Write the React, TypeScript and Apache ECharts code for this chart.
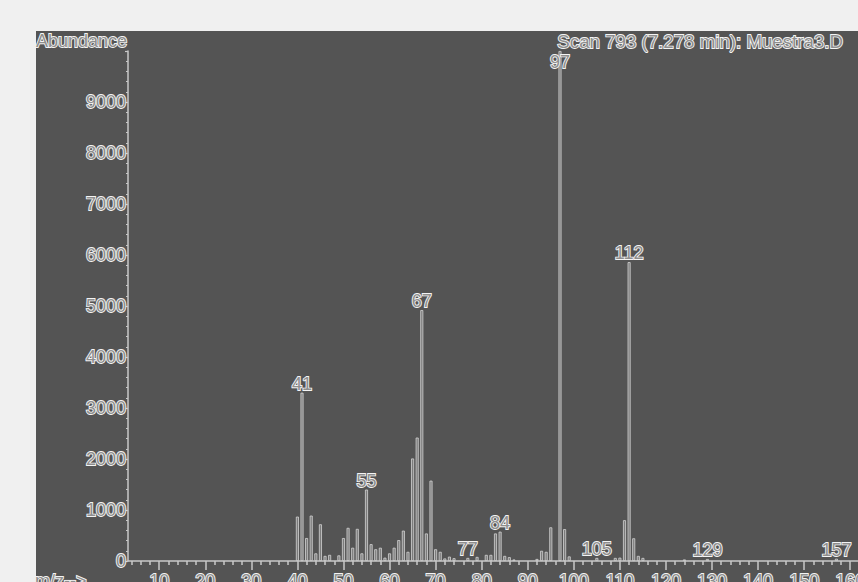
import React, { useEffect, useRef } from "react";
import * as echarts from "echarts";

// m/z values and their abundances
const masses = [
  40, 41, 42, 43, 44, 45, 46, 47, 49, 50, 51, 52, 53, 54, 55, 56, 57, 58, 59, 60,
  61, 62, 63, 64, 65, 66, 67, 68, 69, 70, 71, 72, 73, 74, 77, 79, 81, 82, 83, 84,
  85, 86, 87, 92, 93, 94, 95, 97, 98, 99, 105, 109, 110, 111, 112, 113, 114, 115,
  124, 129, 157,
];
const abundances = [
  870, 3300, 450, 890, 150, 720, 100, 120, 110, 450, 650, 260, 630, 150, 1400, 330, 230, 260, 65, 150,
  260, 410, 595, 180, 2010, 2420, 4920, 540, 1575, 230, 180, 50, 85, 55, 60, 80, 120, 120, 540, 575,
  100, 75, 30, 40, 200, 180, 660, 10000, 625, 90, 60, 60, 65, 800, 5860, 445, 100, 60,
  30, 40, 45,
];
const labeledMasses = [41, 55, 67, 77, 84, 97, 105, 112, 129, 157];
const xMajorTicks = [10, 20, 30, 40, 50, 60, 70, 80, 90, 100, 110, 120, 130, 140, 150, 160];
const xMinorTicks = [
  4, 6, 8, 12, 14, 16, 18, 22, 24, 26, 28, 32, 34, 36, 38, 42, 44, 46, 48, 52, 54, 56, 58,
  62, 64, 66, 68, 72, 74, 76, 78, 82, 84, 86, 88, 92, 94, 96, 98, 102, 104, 106, 108,
  112, 114, 116, 118, 122, 124, 126, 128, 132, 134, 136, 138, 142, 144, 146, 148,
  152, 154, 156, 158, 162, 164,
];
const titleText = "Scan 793 (7.278 min): Muestra3.D";
const yAxisTitle = "Abundance";
const xAxisTitle = "m/z-->";

const X_MIN = 3.23;
const X_MAX = 165;
const Y_MAX = 10000;

const FONT = "Liberation Sans, Arial, sans-serif";
const FILL = "#8e8e8e";
const STROKE = "#f4f4f4";
const textStyle = {
  color: FILL,
  textBorderColor: STROKE,
  textBorderWidth: 1.8,
  fontFamily: FONT,
  fontSize: 18,
};

export default function App() {
  const ref = useRef<HTMLDivElement>(null);

  useEffect(() => {
    if (!ref.current) return;
    const chart = echarts.init(ref.current, undefined, { renderer: "svg" });

    const data = masses.map((m, i) => {
      const labeled = labeledMasses.includes(m);
      const item: any = { value: [m, abundances[i]] };
      if (labeled) {
        const atTop = abundances[i] >= Y_MAX;
        item.label = {
          show: true,
          position: atTop ? "insideTop" : "top",
          distance: atTop ? 2 : 0,
          formatter: String(m),
          ...textStyle,
        };
      }
      return item;
    });

    const pxPerUnit = 4.607;
    const gridWidth = (X_MAX - X_MIN) * pxPerUnit;

    const gText = (text: string, x: number, y: number, align: string, va: string, size = 18) => ({
      type: "text",
      z: 100,
      x,
      y,
      style: {
        text,
        fill: FILL,
        stroke: STROKE,
        lineWidth: 1.8,
        fontFamily: FONT,
        fontSize: size,
        verticalAlign: va,
        align,
      },
    });

    chart.setOption({
      animation: false,
      backgroundColor: "#f0f0f0",
      graphic: [
        {
          type: "rect",
          z: -100,
          shape: { x: 36, y: 31, width: 900, height: 600 },
          style: { fill: "#545454" },
        },
        gText(yAxisTitle, 36, 41, "left", "middle"),
        gText(titleText, 843, 41, "right", "middle", 18.7),
        gText(xAxisTitle, 35, 572, "left", "top"),
      ],
      grid: {
        left: 128,
        top: 51,
        bottom: 21,
        width: gridWidth,
        containLabel: false,
        outerBoundsMode: "none",
      },
      xAxis: [
        {
          type: "value",
          min: X_MIN,
          max: X_MAX,
          splitLine: { show: false },
          axisLine: { show: true, lineStyle: { color: "#c8c8c8", width: 1.5 } },
          axisTick: {
            show: true,
            customValues: xMajorTicks,
            length: 9,
            lineStyle: { color: "#c8c8c8", width: 1.5 },
          },
          axisLabel: {
            customValues: xMajorTicks,
            margin: 11,
            hideOverlap: false,
            ...textStyle,
          },
        },
        {
          type: "value",
          min: X_MIN,
          max: X_MAX,
          position: "bottom",
          splitLine: { show: false },
          axisLine: { show: false },
          axisTick: {
            show: true,
            customValues: xMinorTicks,
            length: 4,
            lineStyle: { color: "#c8c8c8", width: 1.5 },
          },
          axisLabel: { show: false },
        },
      ],
      yAxis: {
        type: "value",
        min: 0,
        max: Y_MAX,
        interval: 1000,
        splitLine: { show: false },
        axisLine: { show: true, lineStyle: { color: "#c8c8c8", width: 1.5 } },
        axisTick: { show: true, length: 3, lineStyle: { color: "#c8c8c8", width: 1.2 } },
        minorTick: { show: true, splitNumber: 5, length: 2, lineStyle: { color: "#c8c8c8", width: 1.2 } },
        axisLabel: {
          showMaxLabel: false,
          margin: 2,
          formatter: (v: number) => String(v),
          ...textStyle,
        },
      },
      series: [
        {
          type: "bar",
          xAxisIndex: 0,
          barWidth: 3,
          itemStyle: { color: "#7c7c7c", borderColor: "#d4d4d4", borderWidth: 0.8 },
          data,
        },
      ],
    });

    return () => chart.dispose();
  }, []);

  return (
    <div
      ref={ref}
      style={{ position: "fixed", left: 0, top: 0, width: 858, height: 582 }}
    />
  );
}
